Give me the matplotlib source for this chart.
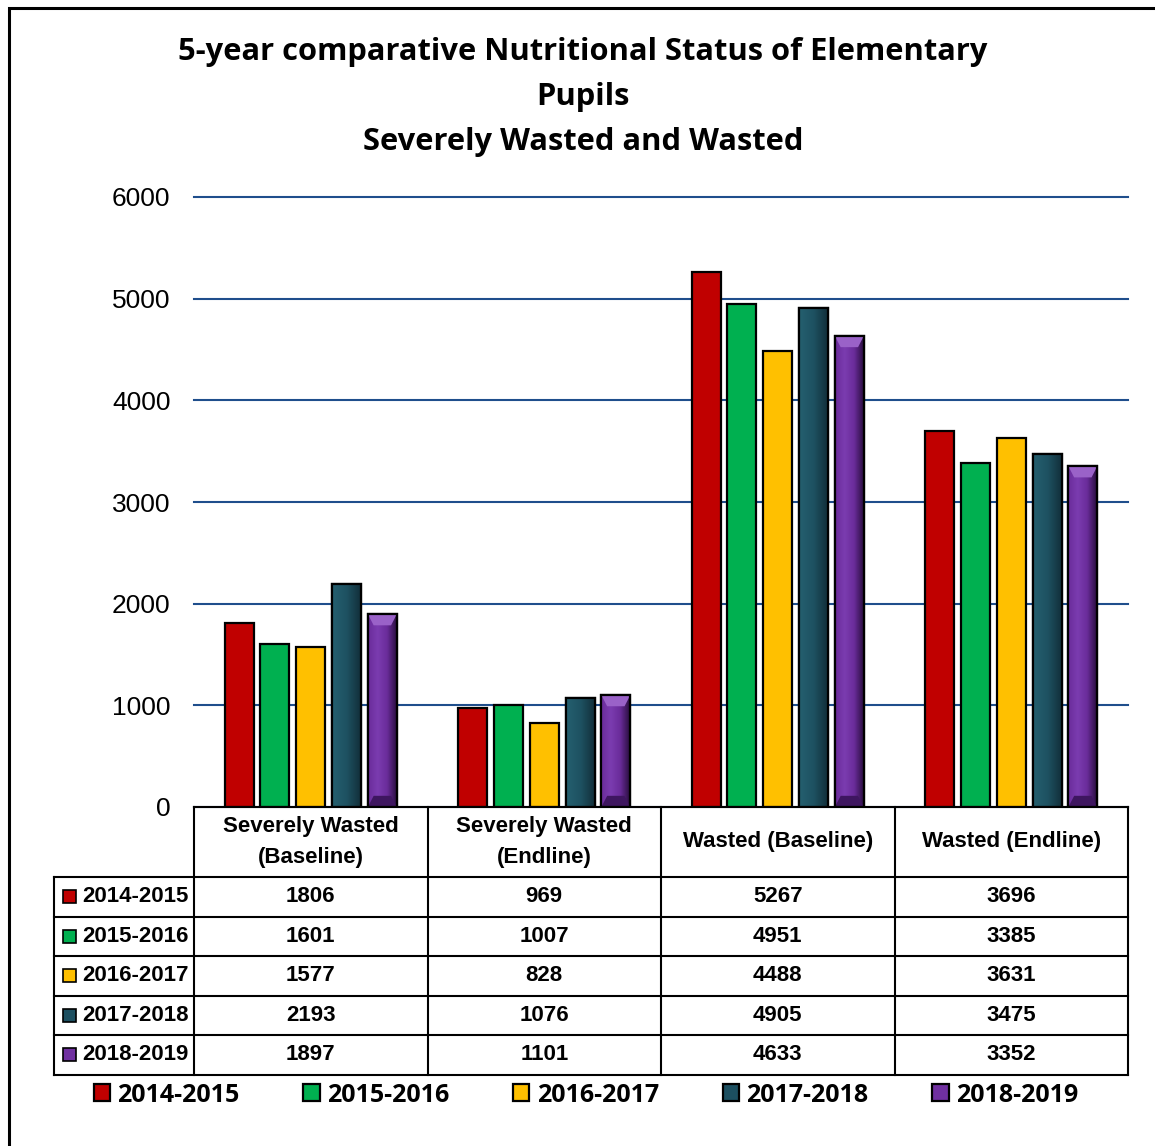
import numpy as np
import matplotlib.pyplot as plt
from matplotlib.patches import Rectangle, Polygon
from matplotlib.colors import LinearSegmentedColormap
from matplotlib.transforms import blended_transform_factory
from matplotlib.font_manager import FontProperties
from matplotlib import font_manager

categories = ["Severely Wasted\n(Baseline)", "Severely Wasted\n(Endline)",
              "Wasted (Baseline)", "Wasted (Endline)"]
years = ["2014-2015", "2015-2016", "2016-2017", "2017-2018", "2018-2019"]
v2014 = [1806, 969, 5267, 3696]
v2015 = [1601, 1007, 4951, 3385]
v2016 = [1577, 828, 4488, 3631]
v2017 = [2193, 1076, 4905, 3475]
v2018 = [1897, 1101, 4633, 3352]
series = [v2014, v2015, v2016, v2017, v2018]
colors = ["#C00000", "#00B050", "#FFC000", "#1C4F60", "#7030A0"]
yticks = [0, 1000, 2000, 3000, 4000, 5000, 6000]

names = {f.name for f in font_manager.fontManager.ttflist}
if "Liberation Sans Narrow" in names:
    tfont, tsize = "Liberation Sans Narrow", 18
else:
    tfont, tsize = "Liberation Sans", 16
title_font = "Open Sans" if "Open Sans" in names else "DejaVu Sans"

W, H = 1155, 1146
fig = plt.figure(figsize=(W / 100, H / 100), dpi=100)
ax = fig.add_axes([194 / W, 1 - 807 / H, 934 / W, 610 / H])

# frame around the picture
fig.patches.append(Rectangle((9 / W, -0.05), 1.1, 1 - 8 / H + 0.05,
                             transform=fig.transFigure, fill=False,
                             edgecolor="black", linewidth=2.2))

x = np.arange(len(categories))
step, bw = 0.1533, 0.124
teal_cmap = LinearSegmentedColormap.from_list("t", ["#25606F", "#1E5262", "#122F3A"])
purp_cmap = LinearSegmentedColormap.from_list("p", ["#6A2C9A", "#7B3CB0", "#6A2C9A", "#2A0E40"])
handles = []
for i, (vals, c) in enumerate(zip(series, colors)):
    bars = ax.bar(x + (i - 2) * step, vals, bw, color=c, edgecolor="black",
                  linewidth=1.6, zorder=3)
    handles.append(bars)
    if i in (3, 4):
        cmap = teal_cmap if i == 3 else purp_cmap
        grad = np.linspace(0, 1, 64).reshape(1, -1)
        for b in bars:
            x0, y0, w, h = b.get_x(), b.get_y(), b.get_width(), b.get_height()
            im = ax.imshow(grad, cmap=cmap, extent=[x0, x0 + w, y0, y0 + h],
                           aspect="auto", zorder=3.1, interpolation="bicubic")
            im.set_clip_path(b)
            if i == 4:
                bx, by = w * 0.2, 110
                ax.add_patch(Polygon([[x0, y0 + h], [x0 + w, y0 + h],
                                      [x0 + w - bx, y0 + h - by], [x0 + bx, y0 + h - by]],
                                     closed=True, facecolor="#9A62C8", edgecolor="none", zorder=3.2))
                ax.add_patch(Polygon([[x0, y0], [x0 + w, y0],
                                      [x0 + w - bx, y0 + by], [x0 + bx, y0 + by]],
                                     closed=True, facecolor="#3E1660", edgecolor="none", zorder=3.2))
            ax.add_patch(Rectangle((x0, y0), w, h, fill=False, edgecolor="black",
                                   linewidth=1.6, zorder=3.3))

ax.set_xlim(-0.5, len(categories) - 0.5)
ax.set_ylim(0, 6000)
ax.set_yticks(yticks)
ax.set_xticks([])
ax.yaxis.grid(True, color="#1F4E8C", linewidth=1.5, zorder=0)
for gl in ax.get_ygridlines():
    gl.set_clip_on(False)
ax.set_axisbelow(True)
ax.tick_params(axis="y", length=0, pad=17, labelsize=19)
for lab in ax.get_yticklabels():
    lab.set_fontfamily("Liberation Sans")
for s in ["left", "right", "top"]:
    ax.spines[s].set_visible(False)
ax.spines["bottom"].set_linewidth(1.5)
ax.spines["bottom"].set_zorder(6)

# data table under the axis
tr = blended_transform_factory(ax.transData, ax.transAxes)
px = 610.0
hdr = 70 / px
rh = 39.5 / px
left = -0.5 - 140 / 233.5
right = len(categories) - 0.5
bottom = -hdr - len(years) * rh
lk = dict(color="black", linewidth=1.5, transform=tr, clip_on=False, zorder=5)
ax.plot([left, right], [-hdr, -hdr], **lk)
for r in range(1, len(years) + 1):
    ax.plot([left, right], [-hdr - r * rh] * 2, **lk)
ax.plot([left, left], [-hdr, bottom], **lk)
for k in range(len(categories) + 1):
    ax.plot([k - 0.5] * 2, [0, bottom], **lk)

for k, cat in enumerate(categories):
    ax.text(k, -hdr / 2, cat, transform=tr, ha="center", va="center",
            fontsize=tsize, fontweight="bold", family=tfont, linespacing=1.6)
for r, (yr, vals, c) in enumerate(zip(years, series, colors)):
    yc = -hdr - (r + 0.5) * rh
    sq = 13 / px
    ax.add_patch(Rectangle((-0.5 - 131 / 233.5, yc - sq / 2), 13 / 233.5, sq,
                           transform=tr, clip_on=False, facecolor=c,
                           edgecolor="black", linewidth=1.2, zorder=5))
    ax.text(-0.5 - 112 / 233.5, yc, yr, transform=tr, ha="left", va="center",
            fontsize=tsize, fontweight="bold", family=tfont)
    for k, v in enumerate(vals):
        ax.text(k, yc, str(v), transform=tr, ha="center", va="center",
                fontsize=tsize, fontweight="bold", family=tfont)

# title
for txt, yy in zip(["5-year comparative Nutritional Status of Elementary",
                    "Pupils", "Severely Wasted and Wasted"], [52, 97, 142]):
    fig.text(583 / W, 1 - yy / H, txt, ha="center", va="center", fontsize=22.2,
             fontweight="bold", family=title_font)

fig.legend(handles=handles, labels=years, loc="center", ncol=5,
           bbox_to_anchor=(586 / W, 1 - 1095 / H), frameon=False,
           prop=FontProperties(family=title_font, weight="bold", size=18),
           handlelength=0.65, handleheight=0.65, handletextpad=0.3,
           columnspacing=2.55)

fig.savefig("out.png", dpi=100)
